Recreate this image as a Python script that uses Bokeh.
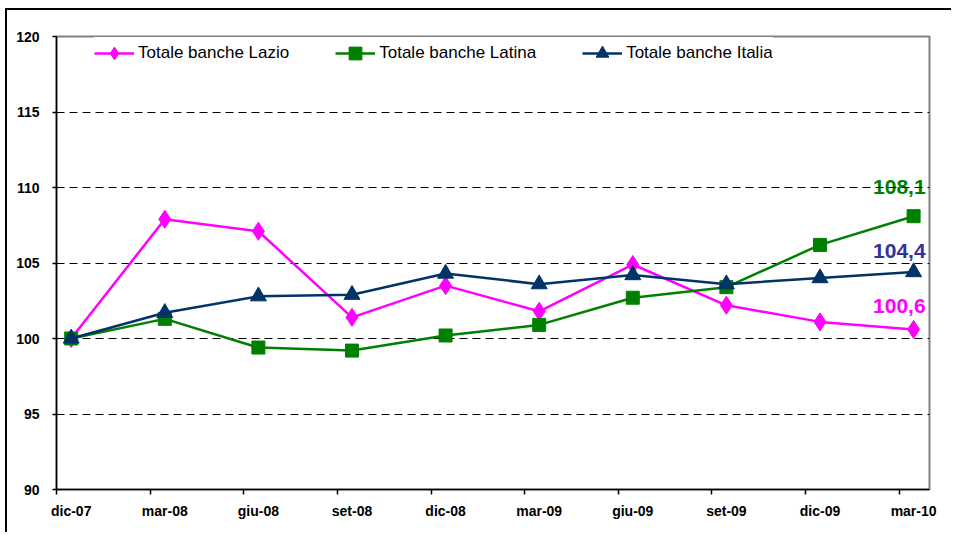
from bokeh.plotting import figure
from bokeh.models import FixedTicker, Range1d, ColumnDataSource, Legend, LegendItem
from bokeh.core.properties import value
from bokeh.embed import file_html
from bokeh.resources import INLINE

months = ["dic-07", "mar-08", "giu-08", "set-08", "dic-08",
          "mar-09", "giu-09", "set-09", "dic-09", "mar-10"]
lazio = [100.0, 107.9, 107.1, 101.4, 103.5, 101.8, 104.9, 102.2, 101.1, 100.6]
latina = [100.0, 101.3, 99.4, 99.2, 100.2, 100.9, 102.7, 103.4, 106.2, 108.1]
italia = [100.0, 101.7, 102.8, 102.9, 104.3, 103.6, 104.2, 103.6, 104.0, 104.4]
y_ticks = [90, 95, 100, 105, 110, 115, 120]

FONT = "Liberation Sans"
C_LAZIO = "#FF00FF"
C_LATINA = "#008000"
C_ITALIA = "#003366"

xs = list(range(len(months)))

p = figure(width=946, height=524, output_backend="svg", toolbar_location=None,
           x_range=Range1d(-0.157, 9.17), y_range=Range1d(90, 120),
           min_border_left=49, min_border_right=24, min_border_top=26,
           min_border_bottom=45)
p.styles = {"border-left": "2px solid black", "border-top": "2px solid black",
            "margin-left": "5px", "margin-top": "8px"}

p.outline_line_color = "#808080"
p.outline_line_width = 2

# grid
p.xgrid.visible = False
p.ygrid.grid_line_color = "black"
p.ygrid.grid_line_dash = "8 5"
p.ygrid.grid_line_width = 1

# x axis
p.xaxis.ticker = FixedTicker(ticks=xs, minor_ticks=[i - 0.155 for i in xs])
p.xaxis.major_label_overrides = {i: m for i, m in enumerate(months)}
p.xaxis.major_tick_line_color = None
p.xaxis.major_tick_out = 0
p.xaxis.major_tick_in = 0
p.xaxis.minor_tick_line_color = "black"
p.xaxis.minor_tick_line_width = 1.5
p.xaxis.minor_tick_out = 5
p.xaxis.minor_tick_in = 0
p.xaxis.major_label_standoff = 8
p.xaxis.major_label_text_font = FONT
p.xaxis.major_label_text_font_style = "bold"
p.xaxis.major_label_text_font_size = "14px"
p.xaxis.major_label_text_color = "black"
p.xaxis.axis_line_width = 1.5
p.xaxis.axis_line_color = "black"

# y axis
p.yaxis.ticker = FixedTicker(ticks=y_ticks)
p.yaxis.major_tick_out = 4
p.yaxis.major_tick_in = 0
p.yaxis.major_tick_line_width = 1.5
p.yaxis.minor_tick_line_color = None
p.yaxis.major_label_standoff = 13
p.yaxis.major_label_text_font = FONT
p.yaxis.major_label_text_font_style = "bold"
p.yaxis.major_label_text_font_size = "14px"
p.yaxis.major_label_text_color = "black"
p.yaxis.axis_line_width = 1.5
p.yaxis.axis_line_color = "black"

# series
l1 = p.line(xs, lazio, line_color=C_LAZIO, line_width=2.5)
m1 = p.scatter(xs, lazio, marker="diamond", size=18, fill_color=C_LAZIO, line_color=C_LAZIO)
l2 = p.line(xs, latina, line_color=C_LATINA, line_width=2.5)
m2 = p.scatter(xs, latina, marker="square", size=13, fill_color=C_LATINA, line_color=C_LATINA)
l3 = p.line(xs, italia, line_color=C_ITALIA, line_width=2.5)
m3 = p.scatter(xs, italia, marker="triangle", size=16, fill_color=C_ITALIA, line_color=C_ITALIA)

# final value labels
last = len(xs) - 1
lab_src = ColumnDataSource(dict(
    x=[xs[last]] * 3,
    y=[latina[last], italia[last], lazio[last]],
    text=[f"{v:.1f}".replace(".", ",") for v in (latina[last], italia[last], lazio[last])],
    color=[C_LATINA, "#333399", C_LAZIO],
    yoff=[-29, -21, -23],
))
t = p.text(x="x", y="y", text="text", source=lab_src, text_color="color",
           y_offset="yoff", x_offset=12, text_align="right", text_baseline="middle",
           text_font=value(FONT), text_font_style="bold", text_font_size="21px")
t.level = "image"

legend = Legend(items=[
    LegendItem(label="Totale banche Lazio", renderers=[l1, m1]),
    LegendItem(label="Totale banche Latina", renderers=[l2, m2]),
    LegendItem(label="Totale banche Italia", renderers=[l3, m3]),
], orientation="horizontal", location=(38, 420))
legend.glyph_width = 40
legend.glyph_height = 32
legend.label_height = 32
legend.label_standoff = 4
legend.spacing = 46
legend.padding = 24
legend.border_line_color = None
legend.background_fill_color = "white"
legend.background_fill_alpha = 1
legend.label_text_font = FONT
legend.label_text_font_size = "17px"
legend.label_text_color = "black"
p.add_layout(legend, "center")

open("out.html", "w").write(file_html(p, INLINE))
